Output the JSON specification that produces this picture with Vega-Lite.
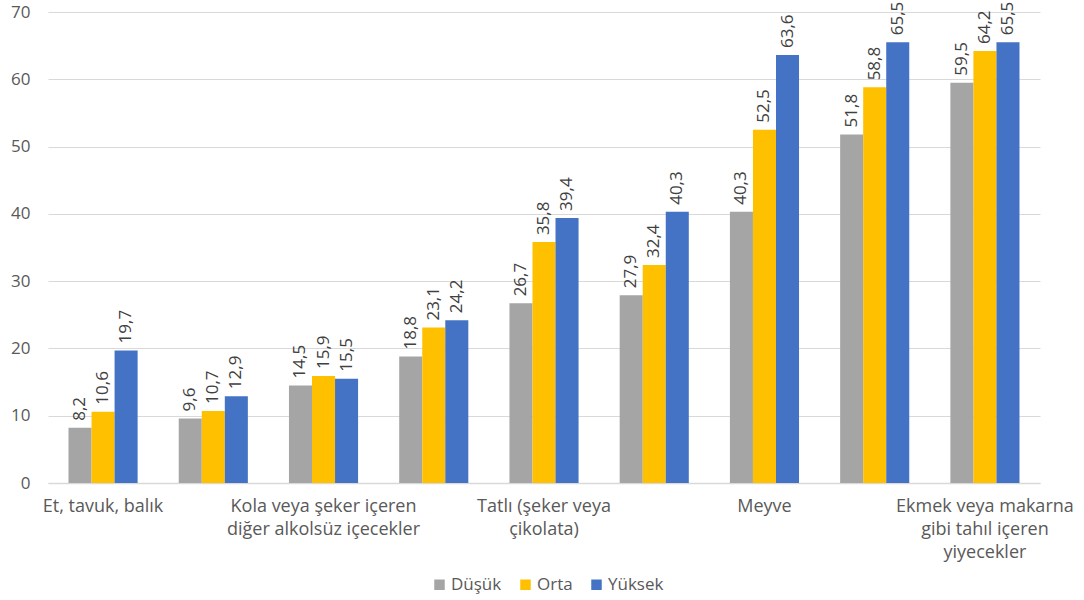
{
  "$schema": "https://vega.github.io/schema/vega-lite/v6.json",
  "width": 992,
  "height": 471,
  "autosize": "none",
  "padding": {"left": 48, "top": 12, "right": 44, "bottom": 117},
  "background": "white",
  "config": {
    "font": "Open Sans",
    "view": {"stroke": null},
    "locale": {"number": {"decimal": ",", "thousands": ".", "grouping": [3], "currency": ["", " TL"]}}
  },
  "data": {
    "values": [
      {"kategori": "Et, tavuk, balık", "grup": "Düşük", "deger": 8.2},
      {"kategori": "Et, tavuk, balık", "grup": "Orta", "deger": 10.6},
      {"kategori": "Et, tavuk, balık", "grup": "Yüksek", "deger": 19.7},
      {"kategori": "Sebze", "grup": "Düşük", "deger": 9.6},
      {"kategori": "Sebze", "grup": "Orta", "deger": 10.7},
      {"kategori": "Sebze", "grup": "Yüksek", "deger": 12.9},
      {"kategori": "Kola veya şeker içeren diğer alkolsüz içecekler", "grup": "Düşük", "deger": 14.5},
      {"kategori": "Kola veya şeker içeren diğer alkolsüz içecekler", "grup": "Orta", "deger": 15.9},
      {"kategori": "Kola veya şeker içeren diğer alkolsüz içecekler", "grup": "Yüksek", "deger": 15.5},
      {"kategori": "Süt ve süt ürünleri", "grup": "Düşük", "deger": 18.8},
      {"kategori": "Süt ve süt ürünleri", "grup": "Orta", "deger": 23.1},
      {"kategori": "Süt ve süt ürünleri", "grup": "Yüksek", "deger": 24.2},
      {"kategori": "Tatlı (şeker veya çikolata)", "grup": "Düşük", "deger": 26.7},
      {"kategori": "Tatlı (şeker veya çikolata)", "grup": "Orta", "deger": 35.8},
      {"kategori": "Tatlı (şeker veya çikolata)", "grup": "Yüksek", "deger": 39.4},
      {"kategori": "Cips veya kızartma", "grup": "Düşük", "deger": 27.9},
      {"kategori": "Cips veya kızartma", "grup": "Orta", "deger": 32.4},
      {"kategori": "Cips veya kızartma", "grup": "Yüksek", "deger": 40.3},
      {"kategori": "Meyve", "grup": "Düşük", "deger": 40.3},
      {"kategori": "Meyve", "grup": "Orta", "deger": 52.5},
      {"kategori": "Meyve", "grup": "Yüksek", "deger": 63.6},
      {"kategori": "Patates", "grup": "Düşük", "deger": 51.8},
      {"kategori": "Patates", "grup": "Orta", "deger": 58.8},
      {"kategori": "Patates", "grup": "Yüksek", "deger": 65.5},
      {"kategori": "Ekmek veya makarna gibi tahıl içeren yiyecekler", "grup": "Düşük", "deger": 59.5},
      {"kategori": "Ekmek veya makarna gibi tahıl içeren yiyecekler", "grup": "Orta", "deger": 64.2},
      {"kategori": "Ekmek veya makarna gibi tahıl içeren yiyecekler", "grup": "Yüksek", "deger": 65.5}
    ]
  },
  "encoding": {
    "x": {
      "field": "kategori",
      "type": "nominal",
      "sort": null,
      "scale": {"paddingInner": 0.373, "paddingOuter": 0.186},
      "axis": {
        "title": null,
        "labelAngle": 0,
        "labelFontSize": 18,
        "labelColor": "#595959",
        "labelLineHeight": 23,
        "labelPadding": 14,
        "labelOverlap": false,
        "labelBound": false,
        "labelLimit": 0,
        "ticks": false,
        "domainColor": "#D9D9D9",
        "domainWidth": 1.5,
        "labelExpr": "datum.value == 'Kola veya şeker içeren diğer alkolsüz içecekler' ? ['Kola veya şeker içeren', 'diğer alkolsüz içecekler'] : datum.value == 'Tatlı (şeker veya çikolata)' ? ['Tatlı (şeker veya', 'çikolata)'] : datum.value == 'Ekmek veya makarna gibi tahıl içeren yiyecekler' ? ['Ekmek veya makarna', 'gibi tahıl içeren', 'yiyecekler'] : (datum.value == 'Et, tavuk, balık' || datum.value == 'Meyve') ? datum.value : ''"
      }
    },
    "xOffset": {
      "field": "grup",
      "type": "nominal",
      "sort": ["Düşük", "Orta", "Yüksek"],
      "scale": {"paddingInner": 0, "paddingOuter": 0}
    },
    "y": {
      "field": "deger",
      "type": "quantitative",
      "scale": {"domain": [0, 70], "nice": false},
      "axis": {
        "title": null,
        "values": [0, 10, 20, 30, 40, 50, 60, 70],
        "labelFontSize": 17,
        "labelColor": "#595959",
        "labelPadding": 18,
        "ticks": false,
        "domain": false,
        "gridColor": "#D9D9D9",
        "gridWidth": 1.2
      }
    }
  },
  "layer": [
    {
      "mark": {"type": "bar"},
      "encoding": {
        "color": {
          "field": "grup",
          "type": "nominal",
          "scale": {"domain": ["Düşük", "Orta", "Yüksek"], "range": ["#A5A5A5", "#FFC000", "#4472C4"]},
          "legend": {
            "title": null,
            "orient": "none",
            "direction": "horizontal",
            "legendX": 383,
            "legendY": 564,
            "symbolType": "square",
            "symbolSize": 110,
            "symbolStrokeWidth": 0,
            "labelFontSize": 17,
            "labelColor": "#595959",
            "labelOffset": 3,
            "columnPadding": 15,
            "padding": 0
          }
        }
      }
    },
    {
      "mark": {"type": "text", "angle": 270, "align": "left", "baseline": "middle", "dx": 7, "fontSize": 17, "color": "#404040"},
      "encoding": {
        "text": {"field": "deger", "type": "quantitative", "format": ".1f"}
      }
    }
  ]
}
